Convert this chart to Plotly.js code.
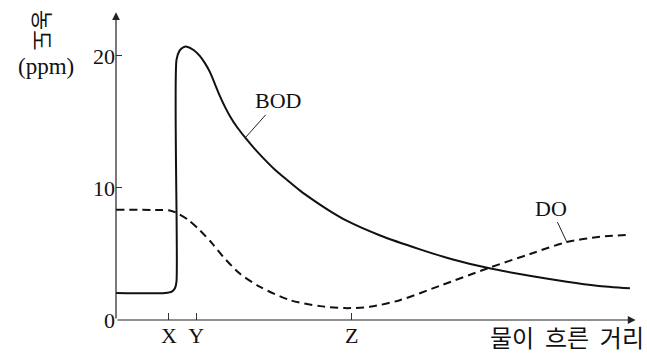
<!DOCTYPE html>
<html>
<head>
<meta charset="utf-8">
<script src="https://cdn.plot.ly/plotly-3.0.1.min.js"></script>
<style>
  html, body { margin: 0; padding: 0; background: #fff; }
  #chart { width: 647px; height: 355px; }
</style>
</head>
<body>
<div id="chart"></div>
<script>
// distance along the river (arbitrary units, 0..100)
var bodDistance = [0, 9.5, 10.8, 11.4, 11.7, 11.7, 12.3, 13.0, 13.7, 15.0, 16.2, 17.2, 18.2, 19.1, 20.1, 21.1, 22.1, 23.5, 25.0, 26.7, 28.4, 30.7, 33.1, 35.6, 38.1, 41.4, 44.7, 51.1, 58.8, 65.0, 71.8, 80.0, 87.2, 93.0, 99.4];
var bodValues   = [2.05, 2.05, 2.15, 2.4, 2.9, 19.7, 20.4, 20.65, 20.7, 20.45, 20.0, 19.45, 18.75, 17.9, 16.95, 16.12, 15.4, 14.56, 13.81, 13.02, 12.3, 11.4, 10.6, 9.8, 9.1, 8.25, 7.5, 6.4, 5.35, 4.6, 3.95, 3.35, 2.9, 2.6, 2.4];

var doDistance = [0, 8.5, 10.4, 11.8, 13.9, 16.2, 18.6, 20.7, 24.0, 27.9, 33.7, 39.5, 44.3, 49.1, 54.9, 62.7, 71.8, 80.1, 87.2, 93.6, 99.4];
var doValues   = [8.35, 8.33, 8.3, 8.1, 7.6, 6.8, 5.8, 4.8, 3.5, 2.5, 1.5, 1.05, 0.9, 1.0, 1.5, 2.6, 3.9, 5.0, 5.9, 6.3, 6.45];

var xTickVals = [10.25, 15.5, 45.6];
var xTickText = ['X', 'Y', 'Z'];
var yTickVals = [0, 10, 20];

var serif = '"Liberation Serif", "DejaVu Serif", serif';
var korean = '"Noto Sans CJK KR", sans-serif';

var bod = {
    x: bodDistance,
    y: bodValues,
    name: 'BOD',
    type: 'scatter',
    mode: 'lines',
    line: { color: '#111', width: 2, shape: 'spline', smoothing: 0.7 },
    cliponaxis: false
};

var dox = {
    x: doDistance,
    y: doValues,
    name: 'DO',
    type: 'scatter',
    mode: 'lines',
    line: { color: '#111', width: 2, dash: '8px,5px', shape: 'spline', smoothing: 0.8 },
    cliponaxis: false
};

var data = [bod, dox];

// helpers: pixel position in the 647x355 picture -> paper coords
function px(x) { return (x - 116) / 517; }
function py(y) { return (320 - y) / 309; }

var layout = {
    width: 647,
    height: 355,
    margin: { l: 116, r: 14, t: 11, b: 35 },
    paper_bgcolor: '#fff',
    plot_bgcolor: '#fff',
    showlegend: false,
    font: { family: serif, size: 22, color: '#111' },
    xaxis: {
        range: [0, 100],
        showgrid: false,
        zeroline: false,
        showline: false,
        tickmode: 'array',
        tickvals: xTickVals,
        ticktext: xTickText,
        ticks: 'inside',
        ticklen: 7,
        tickcolor: '#333',
        tickwidth: 1,
        tickfont: { family: serif, size: 22, color: '#111' }
    },
    yaxis: {
        range: [0, 23.4],
        showgrid: false,
        zeroline: false,
        showline: false,
        tickmode: 'array',
        tickvals: yTickVals,
        ticks: 'inside',
        ticklen: 6,
        tickcolor: '#333',
        tickwidth: 1,
        tickfont: { family: serif, size: 22, color: '#111' }
    },
    annotations: [
        // y axis with arrow
        { x: 0, y: 23.3, ax: 0, ay: 0, xref: 'x', yref: 'y', axref: 'x', ayref: 'y',
          text: '', showarrow: true, arrowhead: 2, arrowsize: 1.3, arrowwidth: 1.2, arrowcolor: '#222' },
        // x axis with arrow
        { x: 100.5, y: 0, ax: 0, ay: 0, xref: 'x', yref: 'y', axref: 'x', ayref: 'y',
          text: '', showarrow: true, arrowhead: 2, arrowsize: 1.3, arrowwidth: 1.2, arrowcolor: '#222' },
        // y axis title
        { xref: 'paper', yref: 'paper', x: px(44), y: py(30), xanchor: 'center', yanchor: 'middle',
          text: '농도', showarrow: false, textangle: 90, font: { family: korean, size: 22, color: '#111' } },
        { xref: 'paper', yref: 'paper', x: px(46), y: py(66), xanchor: 'center', yanchor: 'middle',
          text: '(ppm)', showarrow: false, font: { family: serif, size: 23, color: '#111' } },
        // x axis title
        { xref: 'paper', yref: 'paper', x: px(646), y: py(336), xanchor: 'right', yanchor: 'middle',
          text: '물이  흐른  거리', showarrow: false, font: { family: korean, size: 24, color: '#111' } },
        // series labels with leader lines
        { x: 25.0, y: 13.8, xref: 'x', yref: 'y', ax: 33, ay: -37, text: 'BOD',
          showarrow: true, arrowhead: 0, arrowwidth: 1, arrowcolor: '#222', font: { family: serif, size: 22, color: '#111' } },
        { x: 87.2, y: 5.9, xref: 'x', yref: 'y', ax: -16, ay: -34, text: 'DO',
          showarrow: true, arrowhead: 0, arrowwidth: 1, arrowcolor: '#222', font: { family: serif, size: 22, color: '#111' } }
    ]
};

Plotly.newPlot('chart', data, layout, { displayModeBar: false });
</script>
</body>
</html>
